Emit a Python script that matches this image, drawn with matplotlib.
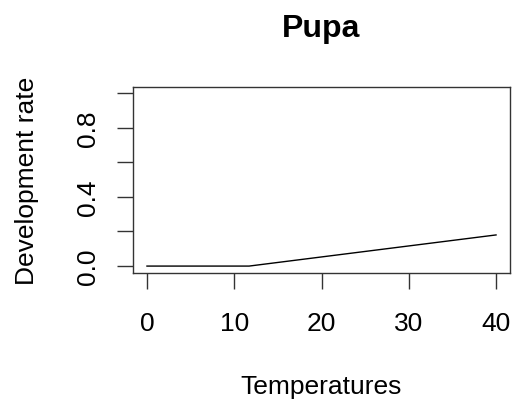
import matplotlib.pyplot as plt
import numpy as np

plt.rcParams['font.family'] = ['Liberation Sans', 'DejaVu Sans']

# development rate of the pupa vs temperature
temps = [0, 11.7, 40]
rate = [0, 0, 0.18]

xticks = [0, 10, 20, 30, 40]
yticks = [0, 0.2, 0.4, 0.6, 0.8, 1.0]
ylabels = ["0.0", "", "0.4", "", "0.8", ""]

fig = plt.figure(figsize=(5.14, 4.06), dpi=100)
ax = fig.add_axes([133/514, 1 - 274/406, 377/514, 186/406])

ax.plot(temps, rate, "-", color="black", lw=1.0)

ax.set_xlim(-1.6, 41.6)
ax.set_ylim(-0.04, 1.035)
ax.set_xticks(xticks)
ax.set_yticks(yticks)
ax.set_yticklabels(ylabels, rotation=90, va="center")
for s in ax.spines.values():
    s.set_linewidth(1.0)
    s.set_color("#333333")
ax.tick_params(length=11.5, width=1.0, color="#333333", labelsize=19)
ax.tick_params(axis="x", pad=16)
ax.tick_params(axis="y", pad=12)

ax.set_title("Pupa", fontsize=23, fontweight="bold", pad=37)
ax.set_xlabel("Temperatures", fontsize=19, labelpad=28)
ax.set_ylabel("Development rate", fontsize=19, labelpad=27)

fig.savefig("out.png")
